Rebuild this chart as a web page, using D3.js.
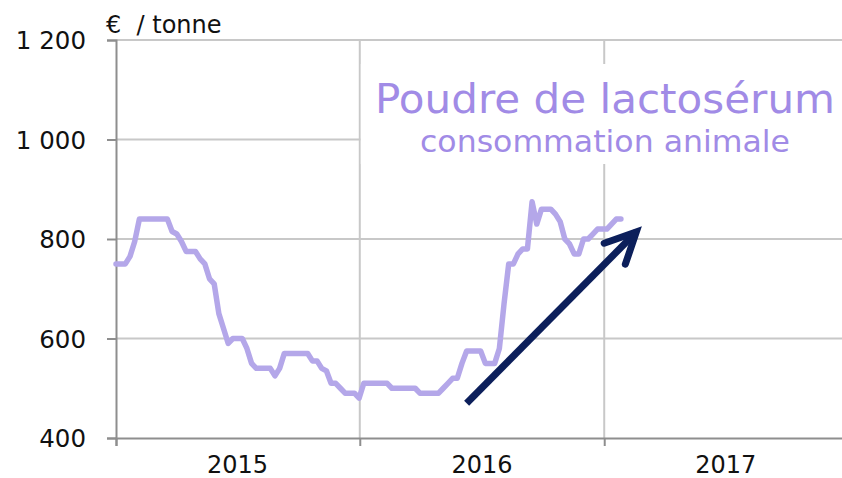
<!DOCTYPE html>
<html><head><meta charset="utf-8">
<script src="https://cdn.jsdelivr.net/npm/d3@7"></script>
<style>body{margin:0;background:#fff}svg{display:block}</style>
</head><body><svg id="c" width="842" height="478"></svg>
<script>
const startDate = "2015-01-01";
const weeklyPrices = [
 750,750,750,765,795,840,840,840,840,840,840,840,815,810,795,775,775,775,760,750,
 720,710,650,620,590,600,600,600,580,550,540,540,540,540,525,540,570,570,570,570,
 570,570,555,555,540,535,510,510,500,490,490,490,480,510,510,510,510,510,510,500,
 500,500,500,500,500,490,490,490,490,490,500,510,520,520,550,575,575,575,575,550,
 550,550,580,670,750,750,770,780,780,875,830,860,860,860,850,835,800,790,770,770,
 800,800,810,820,820,820,830,840,840
];
const yTicks = [400, 600, 800, 1000, 1200];
const yTickLabels = ["400", "600", "800", "1 000", "1 200"];
const years = ["2015", "2016", "2017"];
const unitLabel = "€  / tonne";
const title = "Poudre de lactosérum";
const subtitle = "consommation animale";
const arrowFrom = {date: "2016-06-09", value: 470};
const arrowTo = {date: "2017-02-18", value: 814};

const svg = d3.select("#c");
const parse = d3.timeParse("%Y-%m-%d");
const x = d3.scaleTime().domain([new Date(2015,0,1), new Date(2018,0,1)]).range([116, 848]);
const y = d3.scaleLinear().domain([400, 1200]).range([438, 40]);
const t0 = parse(startDate);
const data = weeklyPrices.map((v,i) => ({date: d3.timeDay.offset(t0, 7*i), value: v}));

const gridColor = "#c8c8c8", axisColor = "#8e8e8e";
const font = "DejaVu Sans, Verdana, sans-serif";

// horizontal gridlines
svg.append("g").selectAll("line").data(yTicks.filter(d => d > 400)).join("line")
  .attr("x1", 116).attr("x2", 848).attr("y1", d => y(d)).attr("y2", d => y(d))
  .attr("stroke", gridColor).attr("stroke-width", 2);

// vertical gridlines at year boundaries
const yearStarts = years.map(s => new Date(+s, 0, 1));
svg.append("g").selectAll("line").data(yearStarts.slice(1)).join("line")
  .attr("x1", d => x(d)).attr("x2", d => x(d)).attr("y1", y(1200)).attr("y2", y(400))
  .attr("stroke", gridColor).attr("stroke-width", 2);

// white box behind title
svg.append("rect").attr("x", x(yearStarts[1]) + 1).attr("y", 64).attr("width", 500).attr("height", 100)
  .attr("fill", "#fff");

// y axis
const yAxis = d3.axisLeft(y).tickValues(yTicks).tickSize(9).tickPadding(21)
  .tickFormat((d,i) => yTickLabels[i]);
const gy = svg.append("g").attr("transform", "translate(116,0)").call(yAxis);
gy.select(".domain").attr("stroke", axisColor).attr("stroke-width", 2);
gy.selectAll(".tick line").attr("stroke", axisColor).attr("stroke-width", 2);
gy.selectAll(".tick text").attr("font-family", font)
  .attr("font-size", 24.5).attr("fill", "#111").attr("dy", "0.35em");

// x axis
const xAxis = d3.axisBottom(x).tickValues(yearStarts).tickSize(8).tickFormat("");
const gx = svg.append("g").attr("transform", `translate(0,${y(400)})`).call(xAxis);
gx.select(".domain").attr("stroke", axisColor).attr("stroke-width", 2);
gx.selectAll(".tick line").attr("stroke", axisColor).attr("stroke-width", 2);

svg.append("g").selectAll("text").data(years).join("text")
  .attr("x", d => x(new Date(+d, 6, 2)))
  .attr("y", 473)
  .attr("text-anchor", "middle")
  .attr("font-family", font)
  .attr("font-size", 24).attr("fill", "#111")
  .text(d => d);

// unit label
svg.append("text").attr("x", 106).attr("y", 33)
  .attr("font-family", font).attr("font-size", 24)
  .attr("fill", "#111").style("white-space", "pre")
  .text(unitLabel);

// line
const line = d3.line().x(d => x(d.date)).y(d => y(d.value));
svg.append("path").datum(data).attr("d", line)
  .attr("fill", "none").attr("stroke", "#b4a7e9").attr("stroke-width", 5.5)
  .attr("stroke-linejoin", "round").attr("stroke-linecap", "round");

// arrow
const ax0 = x(parse(arrowFrom.date)), ay0 = y(arrowFrom.value);
const ax1 = x(parse(arrowTo.date)), ay1 = y(arrowTo.value);
const back = Math.atan2(ay0 - ay1, ax0 - ax1);
const headLen = 34, headAng = 26 * Math.PI / 180;
const arrowColor = "#0c1f5b";
svg.append("line").attr("x1", ax0).attr("y1", ay0).attr("x2", ax1).attr("y2", ay1)
  .attr("stroke", arrowColor).attr("stroke-width", 7);
const h1 = [ax1 + headLen*Math.cos(back+headAng), ay1 + headLen*Math.sin(back+headAng)];
const h2 = [ax1 + headLen*Math.cos(back-headAng), ay1 + headLen*Math.sin(back-headAng)];
svg.append("path").attr("d", `M${h1[0]},${h1[1]}L${ax1},${ay1}L${h2[0]},${h2[1]}`)
  .attr("fill", "none").attr("stroke", arrowColor).attr("stroke-width", 7)
  .attr("stroke-linecap", "round").attr("stroke-linejoin", "miter");

// title
svg.append("text").attr("x", 605).attr("y", 113).attr("text-anchor", "middle")
  .attr("font-family", font).attr("font-size", 41)
  .attr("fill", "#a18be6").attr("textLength", 460).attr("lengthAdjust", "spacingAndGlyphs")
  .text(title);
svg.append("text").attr("x", 605).attr("y", 152).attr("text-anchor", "middle")
  .attr("font-family", font).attr("font-size", 30)
  .attr("fill", "#a18be6").attr("textLength", 370).attr("lengthAdjust", "spacingAndGlyphs")
  .text(subtitle);
</script></body></html>
